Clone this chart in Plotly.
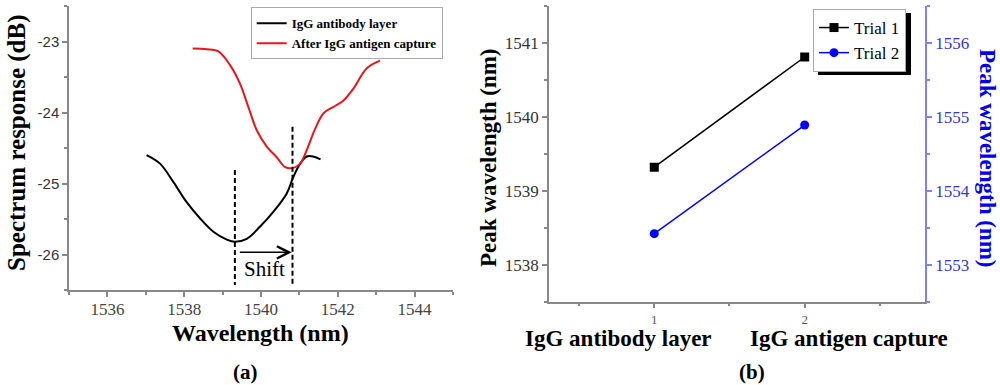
import plotly.graph_objects as go

# ---------------- data (a) ----------------
black_wl = [1537.02, 1537.37, 1537.72, 1538.06, 1538.41, 1538.76, 1539.11, 1539.32, 1539.63,
            1539.97, 1540.32, 1540.67, 1540.84, 1541.02, 1541.19, 1541.36, 1541.55]
black_db = [-24.60, -24.72, -24.98, -25.26, -25.49, -25.68, -25.79, -25.82, -25.78,
            -25.61, -25.40, -25.14, -24.91, -24.72, -24.62, -24.62, -24.66]
red_wl = [1538.22, 1538.59, 1538.89, 1539.19, 1539.45, 1539.67, 1539.89, 1540.15, 1540.41,
          1540.63, 1540.84, 1541.02, 1541.19, 1541.41, 1541.63, 1541.89, 1542.15, 1542.41,
          1542.75, 1543.10]
red_db = [-23.10, -23.11, -23.14, -23.33, -23.59, -23.92, -24.25, -24.48, -24.63,
          -24.77, -24.78, -24.72, -24.53, -24.23, -24.01, -23.92, -23.83, -23.66,
          -23.38, -23.27]
peak_wl = [1539.32, 1540.82]
dash_top = [-24.81, -24.20]
dash_bottom = -26.43
shift_y = -25.97
series_a = ["IgG antibody layer", "After IgG antigen capture"]
y_ticks_a = [-26, -25, -24, -23]
y_ticklabels_a = ["-26", "-25", "-24", "-23"]

# ---------------- data (b) ----------------
stage_x = [1, 2]
stage_labels = ["IgG antibody layer", "IgG antigen capture"]
trial1 = [1539.32, 1540.81]
trial2 = [1553.42, 1554.89]

SERIF = "Liberation Serif"
SANS = "Liberation Sans"
AX = "#888888"
TK = "#333333"

fig = go.Figure()

fig.add_trace(go.Scatter(x=black_wl, y=black_db, mode="lines", name=series_a[0],
                         line=dict(color="black", width=2, shape="spline"),
                         xaxis="x", yaxis="y", legend="legend"))
fig.add_trace(go.Scatter(x=red_wl, y=red_db, mode="lines", name=series_a[1],
                         line=dict(color="#e8161b", width=2, shape="spline"),
                         xaxis="x", yaxis="y", legend="legend"))
for wl, top in zip(peak_wl, dash_top):
    fig.add_trace(go.Scatter(x=[wl, wl], y=[top, dash_bottom], mode="lines", showlegend=False,
                             line=dict(color="black", width=2, dash="5px,3px"),
                             xaxis="x", yaxis="y", hoverinfo="skip"))

fig.add_trace(go.Scatter(x=stage_x, y=trial1, mode="lines+markers", name="Trial 1",
                         line=dict(color="black", width=1.5),
                         marker=dict(symbol="square", size=9, color="black"),
                         xaxis="x2", yaxis="y2", legend="legend2"))
fig.add_trace(go.Scatter(x=stage_x, y=trial2, mode="lines+markers", name="Trial 2",
                         line=dict(color="#0000ff", width=1.5),
                         marker=dict(symbol="circle", size=9, color="#0000ff"),
                         xaxis="x2", yaxis="y3", legend="legend2"))

H = 385.0
def py(p):
    return 1 - p / H

fig.update_layout(
    width=1000, height=385,
    margin=dict(l=0, r=0, t=0, b=0),
    paper_bgcolor="white", plot_bgcolor="white",
    xaxis=dict(domain=[0.069, 0.453], range=[1535, 1545], anchor="y",
               showline=True, linecolor=AX, linewidth=1.5, ticks="outside", ticklen=5,
               tickcolor=AX, tickwidth=1.5, tick0=1536, dtick=2, showgrid=False, zeroline=False,
               ticklabelstandoff=-2,
               tickfont=dict(family=SERIF, size=17, color="#444444"),
               minor=dict(ticks="outside", ticklen=3, tickcolor=AX, tick0=1535, dtick=1, showgrid=False)),
    yaxis=dict(domain=[py(290), py(6)], range=[-26.5, -22.5], anchor="x",
               showline=True, linecolor=AX, linewidth=1.5, ticks="outside", ticklen=5,
               tickcolor=AX, tickwidth=1.5, tickvals=y_ticks_a, ticktext=y_ticklabels_a,
               showgrid=False, zeroline=False,
               tickfont=dict(family=SANS, size=15, color=TK),
               minor=dict(ticks="outside", ticklen=3, tickcolor=AX, tick0=-26.5, dtick=0.5, showgrid=False)),
    xaxis2=dict(domain=[0.549, 0.925], range=[0.3, 2.8], anchor="y2",
                showline=True, linecolor=AX, linewidth=1.5, ticks="outside", ticklen=5,
                tickcolor=AX, tickwidth=1.5, tickvals=stage_x, showgrid=False, zeroline=False,
                tickfont=dict(family=SERIF, size=13, color="#555555"),
                minor=dict(ticks="outside", ticklen=3, tickcolor=AX, tick0=0.5, dtick=0.5, showgrid=False)),
    xaxis3=dict(domain=[0.549, 0.925], range=[0.3, 2.8], anchor="y2", overlaying="x2", side="top",
                showline=True, linecolor=AX, linewidth=1.5, ticks="inside", ticklen=5,
                tickcolor=AX, tickwidth=1.5, tickvals=stage_x, showticklabels=False,
                showgrid=False, zeroline=False,
                minor=dict(ticks="inside", ticklen=3, tickcolor=AX, tick0=0.5, dtick=0.5, showgrid=False)),
    yaxis2=dict(domain=[py(301.7), py(6)], range=[1537.5, 1541.5], anchor="x2",
                showline=True, linecolor=AX, linewidth=1.5, ticks="outside", ticklen=5,
                tickcolor=AX, tickwidth=1.5, tick0=1538, dtick=1, showgrid=False, zeroline=False,
                tickfont=dict(family=SERIF, size=17, color=TK),
                minor=dict(ticks="outside", ticklen=3, tickcolor=AX, tick0=1537.5, dtick=0.5, showgrid=False)),
    yaxis3=dict(range=[1552.5, 1556.5], anchor="x2", overlaying="y2", side="right",
                showline=True, linecolor="#8080ff", linewidth=1.5, ticks="outside", ticklen=5,
                tickcolor="#8080ff", tickwidth=1.5, tick0=1553, dtick=1, showgrid=False, zeroline=False,
                tickfont=dict(family=SERIF, size=17, color="#3535d0"),
                minor=dict(ticks="outside", ticklen=3, tickcolor="#8080ff", tick0=1552.5, dtick=0.5, showgrid=False)),
    legend=dict(x=0.2507, y=py(7.3), xanchor="left", yanchor="top",
                bgcolor="white", bordercolor="#aaaaaa", borderwidth=1, itemwidth=30,
                font=dict(family=SERIF, size=13, color="black", weight="bold"),
                tracegroupgap=0),
    legend2=dict(x=0.906, y=py(9), xanchor="right", yanchor="top",
                 bgcolor="white", bordercolor="#aaaaaa", borderwidth=1, itemwidth=30,
                 font=dict(family=SERIF, size=17, color="black"), tracegroupgap=0),
    showlegend=True,
)

# legend shadow for panel (b)
fig.add_shape(type="rect", xref="paper", yref="paper", layer="above",
              x0=0.818, x1=0.911, y0=py(75), y1=py(13), fillcolor="black", line=dict(width=0))

# shift arrow (a)
fig.add_annotation(x=peak_wl[1] - 0.02, y=shift_y, ax=peak_wl[0] + 0.09, ay=shift_y,
                   xref="x", yref="y", axref="x", ayref="y", text="", showarrow=True,
                   arrowhead=5, arrowsize=1.6, arrowwidth=1.5, arrowcolor="black")
fig.add_annotation(x=(peak_wl[0] + peak_wl[1]) / 2 + 0.02, y=-26.21, xref="x", yref="y",
                   text="Shift", showarrow=False,
                   font=dict(family=SERIF, size=21, color="black"))

def ann(text, x, y, size, color="black", bold=True, angle=0, family=SERIF):
    fig.add_annotation(x=x / 1000.0, y=py(y), xref="paper", yref="paper", text=text,
                       showarrow=False, textangle=angle, xanchor="center", yanchor="middle",
                       font=dict(family=family, size=size, color=color,
                                 weight="bold" if bold else "normal"))

ann("Wavelength (nm)", 260.5, 333, 24)
ann("Spectrum response (dB)", 17, 143, 25, angle=-90)
ann("(a)", 245, 372, 21)
ann("(b)", 752, 372, 21)
ann("Peak wavelength (nm)", 488, 158, 23, angle=-90)
ann("Peak wavelength (nm)", 988, 158, 23, color="#0000ee", angle=90)
ann(stage_labels[0], 618, 338, 23)
ann(stage_labels[1], 849, 338, 23)

fig.write_html("out.html", config={"displayModeBar": False},
               post_script="document.body.style.margin='0';document.body.style.overflow='hidden';")
